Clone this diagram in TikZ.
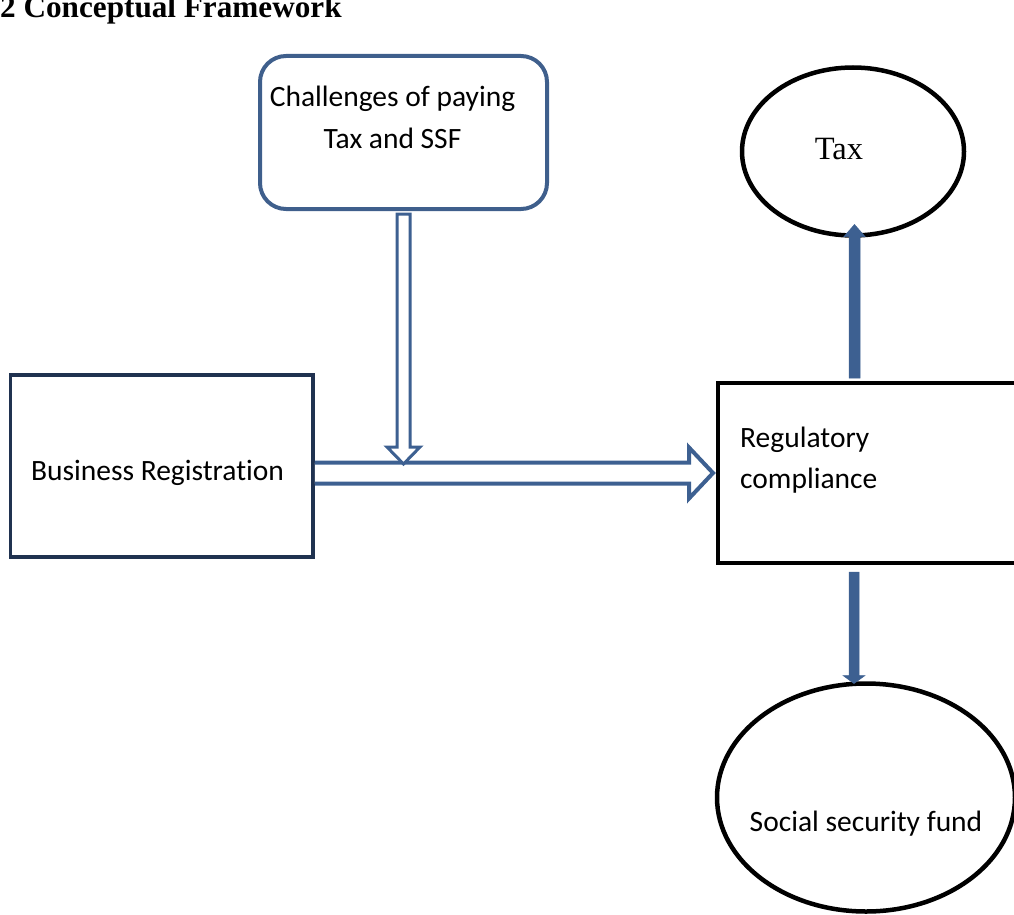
\documentclass[tikz,border=0pt]{standalone}
\usepackage{fontspec}
\setmainfont[Ligatures=NoCommon]{Carlito}
\newfontfamily\seriffam{Liberation Serif}
\usetikzlibrary{calc,shapes.geometric}
\definecolor{arrowblue}{RGB}{61,96,145}
\definecolor{boxblue}{RGB}{63,95,140}
\definecolor{navyline}{RGB}{32,50,80}
\tikzset{
  cal/.style={font=\fontsize{29.5}{34}\selectfont, inner sep=0},
  ser/.style={font=\seriffam\fontsize{32.5}{36}\selectfont, inner sep=0},
  hollow/.style={draw=arrowblue, fill=white, line join=miter, miter limit=10},
  solidarrow/.style={fill=arrowblue, draw=arrowblue, line width=0.5},
  blk/.style={draw=black, line width=4.5, outer sep=0, inner sep=0}
}
\begin{document}
\begin{tikzpicture}[x=1pt,y=-1pt]
\useasboundingbox (0,0) rectangle (1014,915);
\clip (0,0) rectangle (1014,915);

% title
\node[font=\seriffam\bfseries\fontsize{31.2}{36}\selectfont, inner sep=0, anchor=base west] (title) at (0,17.5) {2 Conceptual Framework};

% boxes
\node[draw=boxblue, line width=4, rounded corners=26, minimum width=287, minimum height=153, outer sep=0, inner sep=0] (chal) at (403.5,132.5) {};
\node[draw=navyline, line width=3.5, minimum width=302.5, minimum height=182, outer sep=0, inner sep=0] (br) at (161.75,466) {};
\node[blk, minimum width=330, minimum height=180] (rc) at (883,473) {};
\node[blk, ellipse, minimum width=222, minimum height=168] (tax) at (853,151.5) {};
\node[blk, ellipse, minimum width=298, minimum height=228] (ssf) at (866,797.5) {};

% texts
\node[cal, anchor=base] (t1) at (392.5,107) {Challenges of paying};
\node[cal, anchor=base] (t2) at (392.5,149) {Tax and SSF};
\node[cal, anchor=base] (t3) at (157.5,480) {Business Registration};
\node[cal, anchor=base west] (t4) at (740,447) {Regulatory};
\node[cal, anchor=base west] (t5) at (740,488) {compliance};
\node[ser, anchor=base] (t6) at (839,159.5) {Tax};
\node[cal, anchor=base] (t7) at (866,831) {Social security fund};

% horizontal hollow arrow
\coordinate (hs) at ($(br.east |- rc.west)+(1.75,0)$);
\coordinate (ht) at ($(rc.west)+(-5,0)$);
\draw[hollow, line width=4] ($(hs)+(0,-10.5)$) -- ($(ht)+(-24,-10.5)$) -- ($(ht)+(-24,-25.5)$) -- (ht)
  -- ($(ht)+(-24,25.5)$) -- ($(ht)+(-24,10.5)$) -- ($(hs)+(0,10.5)$);

% vertical hollow arrow
\coordinate (vs) at ($(chal.south)+(0,5)$);
\coordinate (vt) at ($(chal.south |- rc.west)+(0,-9)$);
\draw[hollow, line width=3] ($(vs)+(-6.5,0)$) -- ($(vt)+(-6.5,-17)$) -- ($(vt)+(-16.5,-17)$) -- (vt)
  -- ($(vt)+(16.5,-17)$) -- ($(vt)+(6.5,-17)$) -- ($(vs)+(6.5,0)$) -- cycle;

% solid arrow up to Tax
\coordinate (us) at ($(tax.south |- rc.north)+(1.5,-5)$);
\coordinate (ut) at ($(tax.south)+(1.5,-11)$);
\draw[solidarrow] ($(us)+(-5.5,0)$) -- ($(ut)+(-5.5,12)$) -- ($(ut)+(-10.5,12)$) -- (ut)
  -- ($(ut)+(10.5,12)$) -- ($(ut)+(5.5,12)$) -- ($(us)+(5.5,0)$) -- cycle;

% solid arrow down to SSF
\coordinate (ds) at ($(tax.south |- rc.south)+(1,9)$);
\coordinate (dt) at ($(tax.south |- ssf.north)+(1,0)$);
\draw[solidarrow] ($(ds)+(-5,0)$) -- ($(dt)+(-5,-8)$) -- ($(dt)+(-11,-8)$) -- (dt)
  -- ($(dt)+(11,-8)$) -- ($(dt)+(5,-8)$) -- ($(ds)+(5,0)$) -- cycle;
\end{tikzpicture}
\end{document}
